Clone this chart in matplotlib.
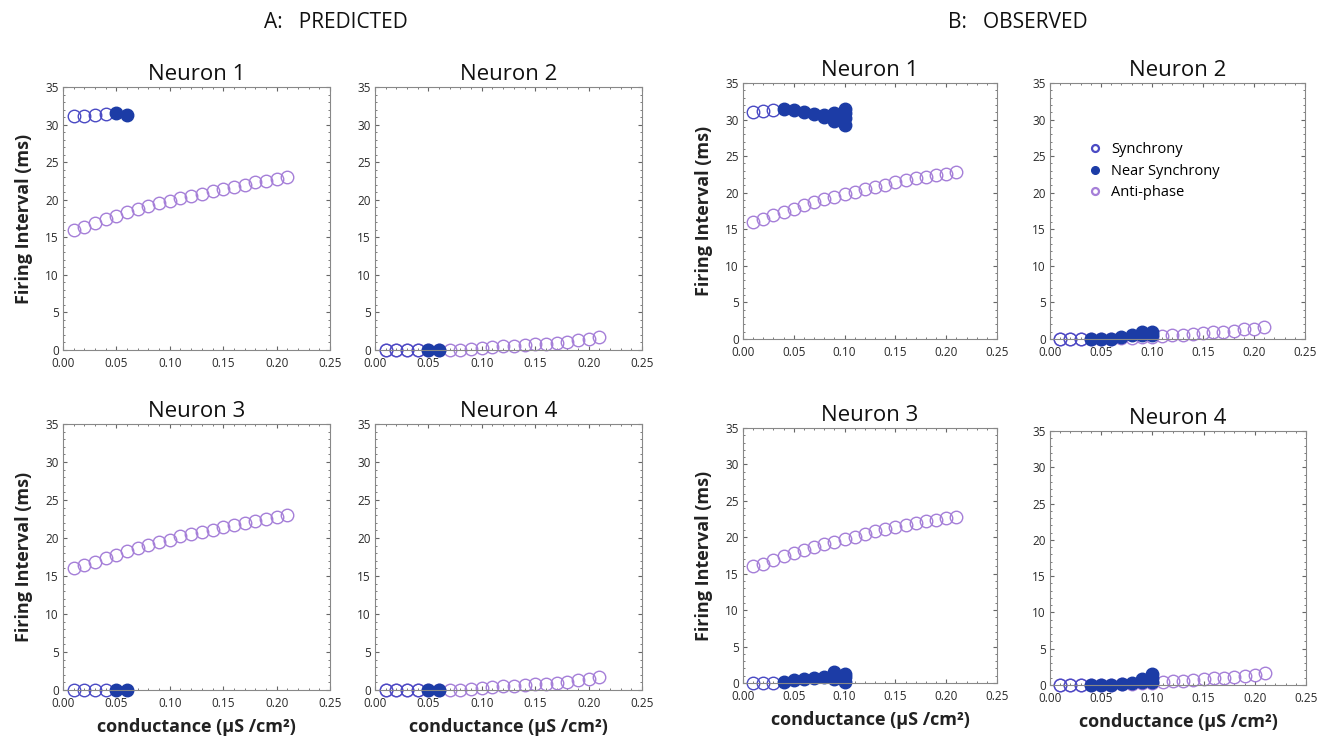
import matplotlib
matplotlib.use("Agg")
import matplotlib.pyplot as plt
from matplotlib.ticker import MultipleLocator

plt.rcParams["font.family"] = ["Open Sans", "DejaVu Sans"]

# conductance grid (uS/cm^2)
g_all = [0.01, 0.02, 0.03, 0.04, 0.05, 0.06, 0.07, 0.08, 0.09, 0.10, 0.11,
         0.12, 0.13, 0.14, 0.15, 0.16, 0.17, 0.18, 0.19, 0.20, 0.21]

# ---- A: predicted ----
pred_sync_g = [0.01, 0.02, 0.03, 0.04]
pred_near_g = [0.05, 0.06]
pred_n1_sync = [31.1, 31.2, 31.3, 31.4]
pred_n1_near = [31.6, 31.3]
pred_n1_anti = [16.0, 16.4, 16.9, 17.4, 17.8, 18.3, 18.7, 19.1, 19.5, 19.8, 20.2,
                20.5, 20.8, 21.1, 21.4, 21.7, 22.0, 22.3, 22.5, 22.7, 23.0]
pred_n2_sync = [0.0, 0.0, 0.0, 0.0]
pred_n2_near = [0.0, 0.0]
pred_n2_anti = [0.0, 0.0, 0.0, 0.0, 0.0, 0.0, 0.0, 0.05, 0.15, 0.3, 0.4,
                0.5, 0.55, 0.65, 0.75, 0.85, 0.95, 1.1, 1.3, 1.45, 1.7]
pred_n3_sync = [0.0, 0.0, 0.0, 0.0]
pred_n3_near = [0.0, 0.0]
pred_n3_anti = pred_n1_anti
pred_n4_sync = [0.0, 0.0, 0.0, 0.0]
pred_n4_near = [0.0, 0.0]
pred_n4_anti = pred_n2_anti

# ---- B: observed ----
obs_sync_g = [0.01, 0.02, 0.03]
obs_n1_sync = [31.1, 31.2, 31.3]
obs_n1_near_g = [0.04, 0.05, 0.06, 0.07, 0.08, 0.08, 0.09, 0.09, 0.09, 0.10, 0.10, 0.10, 0.10]
obs_n1_near = [31.4, 31.3, 31.1, 30.8, 30.6, 30.3, 30.9, 30.4, 29.8, 31.4, 30.9, 30.2, 29.3]
obs_n1_anti = [16.0, 16.4, 16.9, 17.4, 17.8, 18.3, 18.7, 19.1, 19.4, 19.8, 20.1,
               20.5, 20.8, 21.1, 21.4, 21.7, 22.0, 22.2, 22.4, 22.6, 22.8]
obs_n2_sync = [0.0, 0.0, 0.0]
obs_n2_near_g = [0.04, 0.05, 0.06, 0.07, 0.08, 0.09, 0.09, 0.10, 0.10]
obs_n2_near = [0.0, 0.0, 0.0, 0.3, 0.5, 0.9, 0.5, 1.0, 0.6]
obs_n2_anti = [0.0, 0.0, 0.0, 0.0, 0.0, 0.0, 0.1, 0.15, 0.25, 0.3, 0.4,
               0.5, 0.6, 0.7, 0.8, 0.9, 1.0, 1.1, 1.3, 1.4, 1.7]
obs_n3_sync = [0.0, 0.0, 0.0]
obs_n3_near_g = [0.04, 0.05, 0.06, 0.07, 0.08, 0.09, 0.09, 0.09, 0.10, 0.10, 0.10]
obs_n3_near = [0.2, 0.4, 0.6, 0.7, 0.8, 1.5, 1.0, 0.6, 1.3, 0.8, 0.2]
obs_n3_anti = obs_n1_anti
obs_n4_sync = [0.0, 0.0, 0.0]
obs_n4_near_g = [0.04, 0.05, 0.06, 0.07, 0.08, 0.09, 0.09, 0.10, 0.10, 0.10]
obs_n4_near = [0.0, 0.0, 0.0, 0.2, 0.3, 0.8, 0.4, 1.5, 0.9, 0.4]
obs_n4_anti = obs_n2_anti

SYNC_C = "#4a4ac4"
NEAR_C = "#1c3ca6"
ANTI_C = "#a57fd8"

fig = plt.figure(figsize=(13.17, 7.36), dpi=100)
W, H = 1317, 736


def add_axes(x0, y0, x1, y1):
    return fig.add_axes([x0 / W, 1 - y1 / H, (x1 - x0) / W, (y1 - y0) / H])


def style(ax, title, ylabel=False, xlabel=False):
    ax.set_xlim(0, 0.25)
    ax.set_ylim(0, 35)
    ax.xaxis.set_major_locator(MultipleLocator(0.05))
    ax.xaxis.set_minor_locator(MultipleLocator(0.01))
    ax.yaxis.set_major_locator(MultipleLocator(5))
    ax.yaxis.set_minor_locator(MultipleLocator(1))
    ax.xaxis.set_major_formatter(plt.FuncFormatter(lambda v, p: f"{v:.2f}"))
    ax.tick_params(which="both", direction="in", top=True, right=True,
                   labelsize=8.5, colors="#666666", labelcolor="#2a2a2a")
    ax.tick_params(axis="x", which="major", pad=5)
    ax.tick_params(axis="y", which="major", pad=3)
    ax.tick_params(which="major", length=3)
    ax.tick_params(which="minor", length=1.5)
    for s in ax.spines.values():
        s.set_color("#888888")
        s.set_linewidth(0.8)
    ax.set_title(title, fontsize=16, pad=5, color="#111111")
    if ylabel:
        ax.set_ylabel("Firing Interval (ms)", fontsize=13, fontweight="bold",
                      color="#222222", labelpad=9)
    if xlabel:
        ax.set_xlabel("conductance (\u00b5S /cm\u00b2)", fontsize=13,
                      fontweight="bold", color="#222222", labelpad=6)


def draw(ax, sync_g, sync, near_g, near, anti):
    ax.plot(g_all, anti, "o", ms=9, mfc="none", mec=ANTI_C, mew=1.0, clip_on=False)
    ax.plot(sync_g, sync, "o", ms=9, mfc="none", mec=SYNC_C, mew=1.0, clip_on=False)
    ax.plot(near_g, near, "o", ms=9, mfc=NEAR_C, mec=NEAR_C, mew=1.0, clip_on=False)


# A: predicted
ax = add_axes(63, 87, 330, 350)
draw(ax, pred_sync_g, pred_n1_sync, pred_near_g, pred_n1_near, pred_n1_anti)
style(ax, "Neuron 1", ylabel=True)
ax = add_axes(375, 87, 642, 350)
draw(ax, pred_sync_g, pred_n2_sync, pred_near_g, pred_n2_near, pred_n2_anti)
style(ax, "Neuron 2")
ax = add_axes(63, 424, 330, 690)
draw(ax, pred_sync_g, pred_n3_sync, pred_near_g, pred_n3_near, pred_n3_anti)
style(ax, "Neuron 3", ylabel=True, xlabel=True)
ax = add_axes(375, 424, 642, 690)
draw(ax, pred_sync_g, pred_n4_sync, pred_near_g, pred_n4_near, pred_n4_anti)
style(ax, "Neuron 4", xlabel=True)

# B: observed
ax = add_axes(743, 83, 997, 339)
draw(ax, obs_sync_g, obs_n1_sync, obs_n1_near_g, obs_n1_near, obs_n1_anti)
style(ax, "Neuron 1", ylabel=True)
ax = add_axes(1050, 83, 1305, 339)
draw(ax, obs_sync_g, obs_n2_sync, obs_n2_near_g, obs_n2_near, obs_n2_anti)
style(ax, "Neuron 2")
h1, = ax.plot([], [], "o", ms=5, mfc="none", mec=SYNC_C, mew=1.6)
h2, = ax.plot([], [], "o", ms=5.5, mfc=NEAR_C, mec=NEAR_C)
h3, = ax.plot([], [], "o", ms=5, mfc="none", mec=ANTI_C, mew=1.6)
ax.legend([h1, h2, h3], ["Synchrony", "Near Synchrony", "Anti-phase"],
          loc="upper left", bbox_to_anchor=(0.13, 0.78), frameon=False,
          fontsize=10.5, handletextpad=0.5, labelspacing=0.45, handlelength=1.2,
          borderaxespad=0, borderpad=0.2)
ax = add_axes(743, 428, 997, 683)
draw(ax, obs_sync_g, obs_n3_sync, obs_n3_near_g, obs_n3_near, obs_n3_anti)
style(ax, "Neuron 3", ylabel=True, xlabel=True)
ax = add_axes(1050, 431, 1306, 685)
draw(ax, obs_sync_g, obs_n4_sync, obs_n4_near_g, obs_n4_near, obs_n4_anti)
style(ax, "Neuron 4", xlabel=True)

fig.text(336 / W, 1 - 23 / H, "A:   PREDICTED", ha="center", va="center",
         fontsize=15, color="#111111")
fig.text(1018 / W, 1 - 23 / H, "B:   OBSERVED", ha="center", va="center",
         fontsize=15, color="#111111")

fig.savefig("out.png", dpi=100)
